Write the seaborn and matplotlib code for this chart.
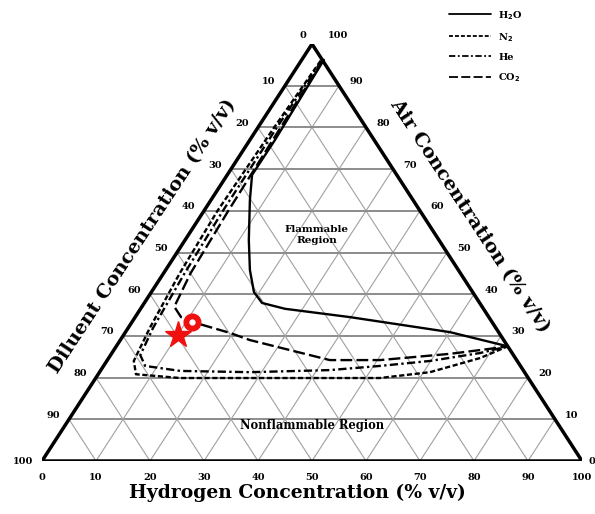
import numpy as np
import pandas as pd
import seaborn as sns
import matplotlib.pyplot as plt

# flammability envelopes: hydrogen % and air % (diluent = rest)
h2o_h = [4.1, 4.65, 4.6, 7.2, 11.8, 15.6, 19.0, 21.8, 26.75, 39.8, 60.1, 72.5]
h2o_air = [96.2, 77.0, 68.6, 62.6, 53.0, 45.8, 40.5, 37.9, 36.5, 34.5, 30.9, 27.5]

n2_h = [3.6, 3.0, 2.5, 3.0, 4.0, 5.0, 7.0, 15.6, 28.6, 40.0, 52.6, 61.2, 68.8, 72.5]
n2_air = [96.0, 80.0, 60.0, 45.0, 32.0, 24.0, 20.8, 19.9, 19.9, 19.9, 19.9, 21.3, 24.7, 27.5]

he_h = [3.8, 3.5, 3.5, 3.9, 4.6, 5.5, 7.7, 14.8, 27.9, 42.4, 51.2, 59.9, 68.2, 72.5]
he_air = [96.0, 80.0, 60.0, 45.0, 32.0, 25.4, 22.8, 21.6, 21.3, 21.8, 22.8, 24.0, 25.9, 27.5]

co2_h = [4.0, 4.2, 4.5, 5.0, 6.0, 8.5, 11.3, 19.5, 24.0, 41.2, 50.5, 62.7, 69.5, 72.5]
co2_air = [96.0, 80.0, 60.0, 45.0, 37.0, 34.5, 33.3, 30.7, 29.0, 24.2, 24.2, 25.7, 26.9, 27.5]

gases = ['H$_2$O', 'N$_2$', 'He', 'CO$_2$']
ticks = list(range(0, 101, 10))

# red marks on the chart
star_h, star_air = 10.1, 30.2
pin_h, pin_air = 11.1, 33.3


def tern(h, air):
    h = np.asarray(h, float)
    air = np.asarray(air, float)
    return h / 100 + air / 200, air / 100


sns.set_theme(style="white")
plt.rcParams['font.family'] = ['DejaVu Serif']
plt.rcParams['font.weight'] = 'bold'
plt.rcParams['text.color'] = 'black'

fig = plt.figure(figsize=(5.95, 5.14), dpi=100)
ax = fig.add_axes([42 / 595, 53 / 514, 540 / 595, 417 / 514])
ax.set_xlim(0, 1)
ax.set_ylim(0, 1)
ax.axis('off')

# triangular grid
for t in ticks[1:-1]:
    x, y = tern([0, 100 - t], [t, t])
    ax.plot(x, y, color='#8c8c8c', lw=1.4, zorder=1)
    x, y = tern([t, t], [0, 100 - t])
    ax.plot(x, y, color='#a0a0a0', lw=0.8, zorder=1)
    x, y = tern([100 - t, 0], [0, 100 - t])
    ax.plot(x, y, color='#a0a0a0', lw=0.8, zorder=1)

x, y = tern([0, 100, 0, 0], [0, 0, 100, 0])
ax.plot(x, y, color='black', lw=2.5, zorder=4, solid_joinstyle='miter')

# envelopes
frames = []
for name, hs, airs in zip(gases, [h2o_h, n2_h, he_h, co2_h],
                          [h2o_air, n2_air, he_air, co2_air]):
    x, y = tern(hs, airs)
    frames.append(pd.DataFrame({'x': x, 'y': y, 'gas': name}))
df = pd.concat(frames, ignore_index=True)

sns.lineplot(data=df, x='x', y='y', hue='gas', style='gas', sort=False,
             estimator=None, ax=ax, linewidth=1.7, zorder=3,
             palette={g: 'black' for g in gases},
             dashes={'H$_2$O': '', 'N$_2$': (2.2, 1.1), 'He': (3.5, 1.4, 1, 1.4),
                     'CO$_2$': (5, 1.8)})
handles, labels = ax.get_legend_handles_labels()
ax.legend(handles, labels, loc='upper left', bbox_to_anchor=(440 / 595, 1),
          bbox_transform=fig.transFigure, frameon=False, handlelength=4.3,
          fontsize=7, labelspacing=0.95, handletextpad=0.8)
for line in ax.get_legend().get_lines():
    line.set_linewidth(1.3)

# red marks
x, y = tern(star_h, star_air)
ax.plot(x, y, marker='*', ms=20, color='#f01010', mec='#f01010', zorder=6)
x, y = tern(pin_h, pin_air)
ax.plot(x, y, marker='o', ms=12, color='#f01010', zorder=6)
ax.plot(x, y, marker='o', ms=3.5, color='white', zorder=7)

# tick labels
kw = dict(textcoords='offset pixels', ha='center', va='center', fontsize=7,
          annotation_clip=False)
for t in ticks:
    ax.annotate(str(t), tern(t, 0), xytext=(0, -17), **kw)
for t in ticks[1:-1]:
    ax.annotate(str(100 - t), tern(0, t), xytext=(-16, 4), **kw)
    ax.annotate(str(t), tern(100 - t, t), xytext=(17, 4), **kw)
ax.annotate('0', tern(0, 100), xytext=(-9, 9), **kw)
ax.annotate('100', tern(0, 100), xytext=(26, 9), **kw)
ax.annotate('100', tern(0, 0), xytext=(-19, 0), **kw)
ax.annotate('0', tern(100, 0), xytext=(10, 0), **kw)

# region names
ax.text(*tern(23.8, 54.2), 'Flammable\nRegion', ha='center', va='center',
        fontsize=7.5, linespacing=1.2)
ax.text(*tern(45.7, 8.6), 'Nonflammable Region', ha='center', va='center',
        fontsize=8.3)

# axis titles
fig.text(297 / 595, 1 - 493 / 514, 'Hydrogen Concentration (% v/v)',
         ha='center', va='center', fontsize=13.5)
fig.text(143 / 595, 1 - 236 / 514, 'Diluent Concentration (% v/v)',
         ha='center', va='center', fontsize=14, rotation=56.6,
         rotation_mode='anchor')
fig.text(470 / 595, 1 - 216 / 514, 'Air Concentration (% v/v)',
         ha='center', va='center', fontsize=14, rotation=-56.6,
         rotation_mode='anchor')

fig.savefig('out.png', dpi=100)
